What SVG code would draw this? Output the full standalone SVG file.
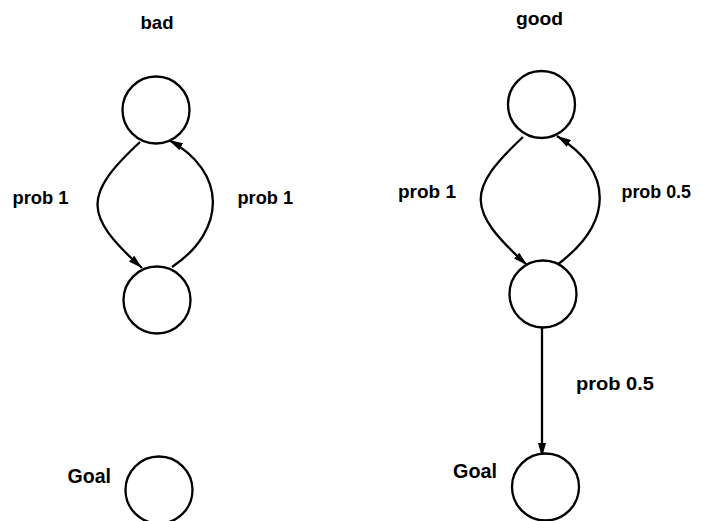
<svg xmlns="http://www.w3.org/2000/svg" width="701" height="521" viewBox="0 0 701 521">
  <style>
    .state { fill: #ffffff; stroke: #000000; stroke-width: 2.3; }
    .edge { fill: none; stroke: #000000; stroke-width: 2.3; marker-end: url(#head); }
    .lbl { font-family: "Liberation Sans", Arial, Helvetica, sans-serif; font-weight: bold; font-size: 18.5px; fill: #000000; }
    .goal { font-family: "Liberation Sans", Arial, Helvetica, sans-serif; font-weight: bold; font-size: 19.5px; fill: #000000; }
  </style>
  <defs>
    <marker id="head" markerUnits="userSpaceOnUse" markerWidth="15" markerHeight="9" refX="14" refY="4" orient="auto">
      <path d="M0,0 L14,4 L0,8 z" fill="#000000"/>
    </marker>
  </defs>
  <rect width="701" height="521" fill="#ffffff"/>

  <!-- titles -->
  <text class="lbl" x="140.5" y="28.5" textLength="33" lengthAdjust="spacingAndGlyphs">bad</text>
  <text class="lbl" x="516" y="25" textLength="47" lengthAdjust="spacingAndGlyphs">good</text>

  <!-- transitions -->
  <g id="edges">
    <path class="edge" d="M140,142 C83,195 83,215 142,268"/>
    <path class="edge" d="M172,267 C227,230 227,172 169,140"/>
    <path class="edge" d="M523,137 C466,190 466,210 527,265"/>
    <path class="edge" d="M557,265 C614,222 614,172 557,136"/>
    <path class="edge" d="M542,327 L542,457"/>
  </g>

  <!-- edge labels -->
  <g id="edge-labels">
    <text class="lbl" x="12.5" y="204" textLength="56" lengthAdjust="spacingAndGlyphs">prob 1</text>
    <text class="lbl" x="237.5" y="204" textLength="55.5" lengthAdjust="spacingAndGlyphs">prob 1</text>
    <text class="lbl" x="398" y="198" textLength="58" lengthAdjust="spacingAndGlyphs">prob 1</text>
    <text class="lbl" x="621.5" y="198" textLength="69.5" lengthAdjust="spacingAndGlyphs">prob 0.5</text>
    <text class="lbl" x="576" y="390" textLength="78" lengthAdjust="spacingAndGlyphs">prob 0.5</text>
  </g>

  <!-- left chain -->
  <g id="bad-top"><circle class="state" cx="156" cy="110" r="33.5"/></g>
  <g id="bad-bottom"><circle class="state" cx="157" cy="300" r="33.5"/></g>
  <g id="bad-goal">
    <circle class="state" cx="159" cy="490" r="33.5"/>
    <text class="goal" x="67.5" y="483" textLength="43.5" lengthAdjust="spacingAndGlyphs">Goal</text>
  </g>

  <!-- right chain -->
  <g id="good-top"><circle class="state" cx="541.5" cy="104.5" r="33.5"/></g>
  <g id="good-bottom"><circle class="state" cx="543" cy="294" r="33.5"/></g>
  <g id="good-goal">
    <circle class="state" cx="545.5" cy="487" r="33.5"/>
    <text class="goal" x="453" y="478" textLength="44" lengthAdjust="spacingAndGlyphs">Goal</text>
  </g>
</svg>
